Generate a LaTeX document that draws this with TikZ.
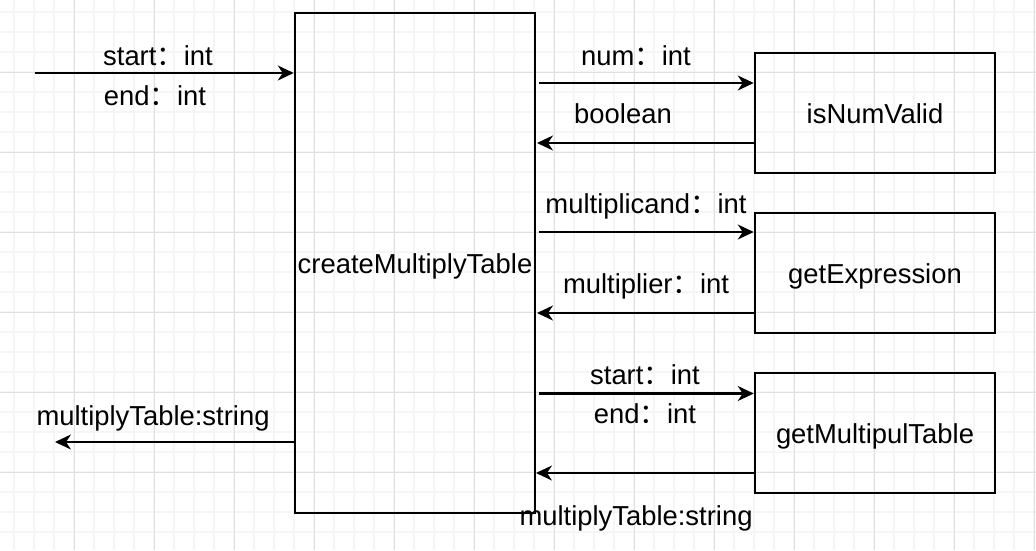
\documentclass[tikz,border=0pt]{standalone}
\usepackage{fontspec}
\setmainfont{Liberation Sans}
\newfontfamily\cjk{Noto Sans CJK SC}
\usetikzlibrary{arrows.meta}
\newcommand\fc{{\cjk ：}}
\definecolor{gminor}{HTML}{F5F5F5}
\definecolor{gmajor}{HTML}{E0E0E0}
\begin{document}
\begin{tikzpicture}[x=1pt,y=-1pt,
  txt/.style={font=\fontsize{27.4}{32}\selectfont},
  box/.style={draw,line width=2.5pt,minimum width=240pt,minimum height=120pt,
    inner sep=0pt,text height=20pt,text depth=0pt,txt},
  lbl/.style={anchor=base,inner sep=0pt,txt},
  arr/.style={line width=2.2pt,-{Stealth[length=16pt,width=15pt,inset=5pt]}},
  minorline/.style={gminor,line width=1.5pt},
  majorline/.style={gmajor,line width=1pt}]
\useasboundingbox (0,0) rectangle (1036,550);
\fill[white] (0,0) rectangle (1036,550);
% grid
\foreach \x in {14,34,...,1034} \draw[minorline] (\x,0) -- (\x,550);
\foreach \y in {12,32,...,548} \draw[minorline] (0,\y) -- (1036,\y);
\foreach \x in {74,154,...,1034} \draw[majorline] (\x,0) -- (\x,550);
\foreach \y in {72,152,...,532} \draw[majorline] (0,\y) -- (1036,\y);
% boxes
\node[box,minimum height=500pt] (main) at (415,263) {createMultiplyTable};
\node[box] (isnum) at (875,113) {isNumValid};
\node[box] (expr) at (875,273) {getExpression};
\node[box] (mult) at (875,433) {getMultipulTable};
% connectors
\coordinate (in) at (35,73);
\draw[arr] (in) -- (in -| main.west);
\coordinate (n1) at (539,83);
\draw[arr] (n1) -- (n1 -| isnum.west);
\coordinate (b1) at (537,143);
\draw[arr] (b1 -| isnum.west) -- (b1);
\coordinate (n2) at (539,232);
\draw[arr] (n2) -- (n2 -| expr.west);
\coordinate (b2) at (537,313);
\draw[arr] (b2 -| expr.west) -- (b2);
\coordinate (n3) at (539,393.5);
\draw[arr] (n3) -- (n3 -| mult.west);
\coordinate (b3) at (536,473);
\draw[arr] (b3 -| mult.west) -- (b3);
\coordinate (out) at (55,442);
\draw[arr] (out -| main.west) -- (out);
% labels
\node[lbl] (l1) at (158,65) {start\fc int};
\node[lbl] (l2) at (155,105) {end\fc int};
\node[lbl] (l3) at (636,65) {num\fc int};
\node[lbl] (l4) at (623,123) {boolean};
\node[lbl] (l5) at (646,213) {multiplicand\fc int};
\node[lbl] (l6) at (646,293) {multiplier\fc int};
\node[lbl] (l7) at (645,384) {start\fc int};
\node[lbl] (l8) at (645,423) {end\fc int};
\node[lbl] (l9) at (636,525) {multiplyTable:string};
\node[lbl] (l10) at (153,425) {multiplyTable:string};
\end{tikzpicture}
\end{document}
